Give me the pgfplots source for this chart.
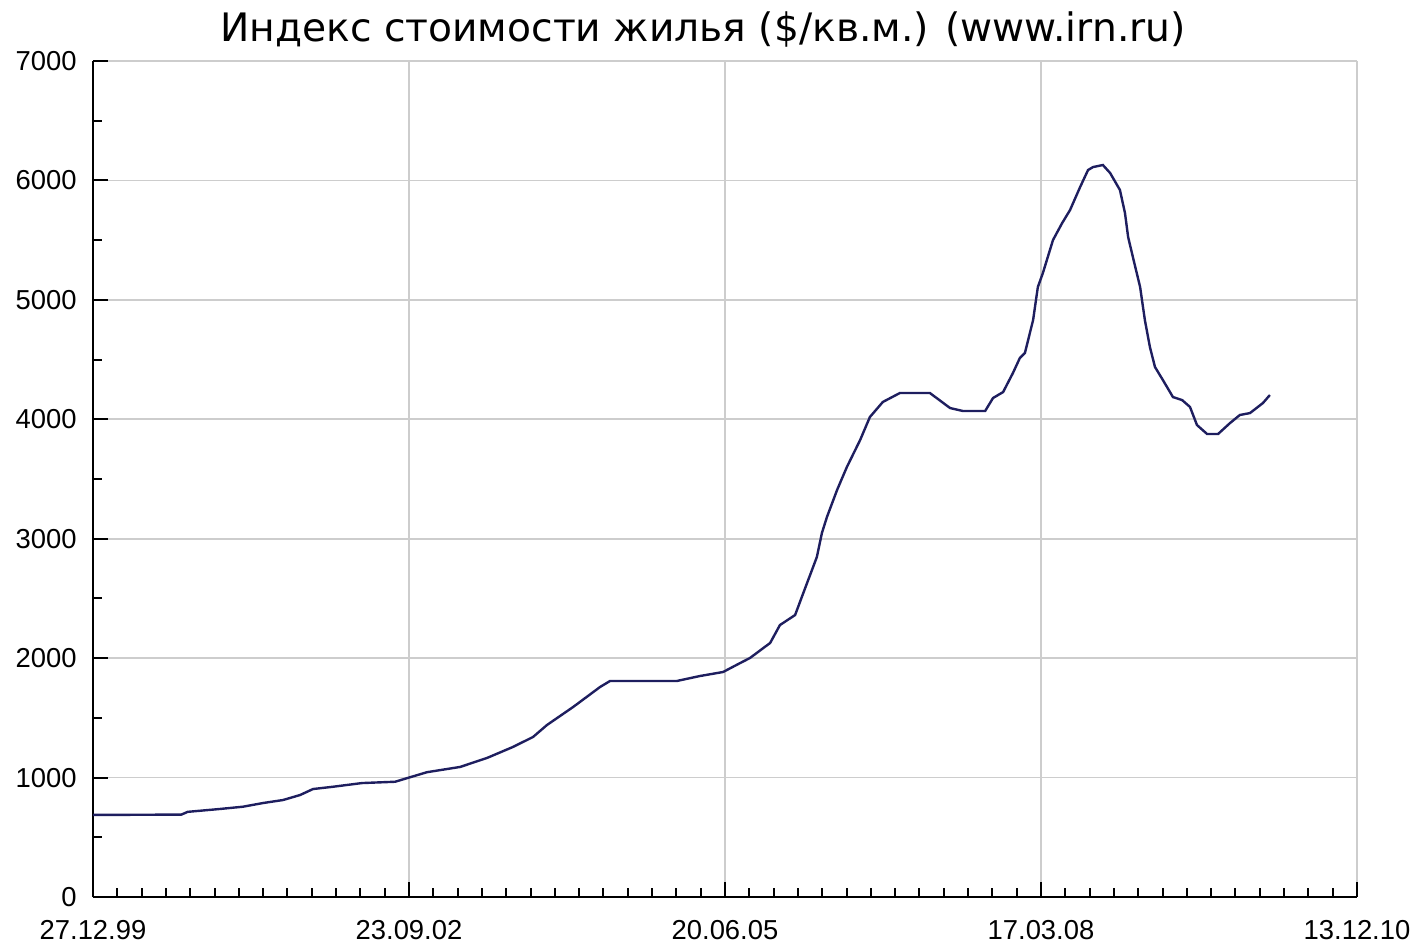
\documentclass[border=0pt]{standalone}
\usepackage{fontspec}
\setmainfont{Liberation Sans}
\newfontfamily\titlefont{DejaVu Sans}
\usepackage{pgfplots}
\pgfplotsset{compat=1.18}
\definecolor{linecol}{RGB}{30,30,95}
\definecolor{gridcol}{RGB}{205,205,205}

\begin{document}
\begin{tikzpicture}
\begin{axis}[
  at={(0,0)}, anchor=south west,
  scale only axis, width=632bp, height=418bp,
  xmin=0, xmax=4004, ymin=0, ymax=7000,
  axis x line*=bottom, axis y line*=left,
  axis line style={line width=1bp, black},
  xtick={0,1001,2002,3003,4004},
  xticklabels={27.12.99,23.09.02,20.06.05,17.03.08,13.12.10},
  ytick={0,1000,2000,3000,4000,5000,6000,7000},
  minor x tick num=12, minor y tick num=1,
  tick align=inside,
  major tick length=7.5bp, minor tick length=4.5bp,
  every tick/.style={black, line width=1bp},
  xmajorgrids, ymajorgrids,
  major grid style={color=gridcol, line width=0.8bp},
  ticklabel style={font=\fontsize{13.7bp}{16bp}\selectfont, inner sep=0pt},
  yticklabel style={xshift=-8bp},
  xticklabel style={yshift=-11.5bp},
  /pgf/number format/assume math mode=true,
  /pgf/number format/1000 sep={},
  clip=false,
]
\addplot[color=linecol, line width=1.2bp, mark=none] coordinates {
(0,687) (280,690) (300,713) (402,737) (475,756) (539,787) (602,812) (656,854)
(697,904) (760,923) (852,954) (957,965) (1001,1000) (1058,1045) (1163,1089)
(1248,1164) (1330,1256) (1394,1340) (1438,1440) (1521,1591) (1606,1758)
(1638,1809) (1850,1809) (1922,1850) (1996,1884) (2050,1959) (2081,2001)
(2145,2127) (2176,2277) (2224,2361) (2262,2629) (2293,2847) (2309,3048)
(2325,3182) (2357,3408) (2388,3600) (2430,3826) (2461,4019) (2502,4145)
(2556,4220) (2651,4220) (2715,4094) (2756,4069) (2826,4069) (2851,4178)
(2883,4228) (2914,4387) (2936,4513) (2952,4555) (2978,4831) (2993,5107)
(3009,5225) (3041,5501) (3070,5643) (3095,5752) (3127,5945) (3152,6087)
(3168,6112) (3199,6129) (3222,6062) (3253,5920) (3269,5727) (3279,5526)
(3294,5359) (3317,5107) (3332,4831) (3348,4605) (3364,4438) (3389,4329)
(3421,4186) (3450,4161) (3475,4103) (3497,3952) (3529,3877) (3564,3877)
(3602,3969) (3633,4036) (3665,4052) (3706,4136) (3728,4203)
};
\end{axis}
\node[anchor=base, font=\titlefont\fontsize{19.6bp}{22bp}\selectfont] at (305bp,427.5bp)
  {Индекс стоимости жилья (\$/кв.м.) (www.irn.ru)};
\pgfresetboundingbox
\path[use as bounding box] (-46.5bp,-25bp) rectangle (663.5bp,448.5bp);
\end{tikzpicture}
\end{document}
